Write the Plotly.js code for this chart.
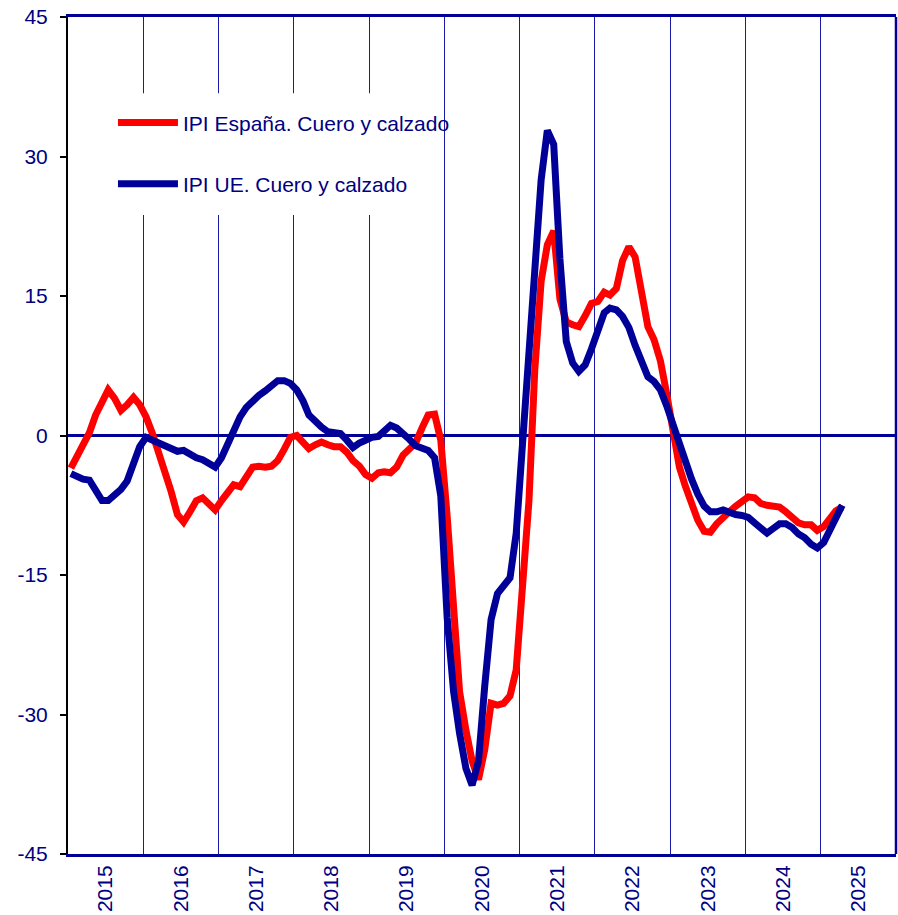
<!DOCTYPE html>
<html><head><meta charset="utf-8">
<script src="https://cdn.plot.ly/plotly-3.0.1.min.js"></script>
<style>html,body{margin:0;padding:0;background:#fff;} #chart{width:898px;height:915px;}</style>
</head><body><div id="chart"></div>
<script>
const startYear = 2015;
const seriesNames = ['IPI España. Cuero y calzado', 'IPI UE. Cuero y calzado'];
const spain = [
  -3.5, -2.3, -1.0, 0.3, 2.2, 3.6, 4.9, 4.0, 2.7, 3.3, 4.1, 3.3,
  2.0, 0.2, -1.8, -3.5, -6.0, -8.5, -9.3, -8.2, -7.0, -6.7, -7.5, -8.0,
  -7.0, -6.0, -5.3, -5.5, -4.5, -3.4, -3.3, -3.4, -3.3, -2.7, -1.5, -0.2,
  0.0, -0.8, -1.4, -1.0, -0.7, -1.0, -1.2, -1.2, -1.8, -2.7, -3.3, -4.2,
  -4.6, -4.0, -3.9, -4.0, -3.4, -2.1, -1.5, -0.8, 0.8, 2.2, 2.3, -0.5,
  -8.7, -19.0, -27.5, -31.7, -35.0, -37.0, -33.8, -28.8, -29.0, -28.8, -28.0, -25.2,
  -15.4, -7.0, 7.0, 16.6, 20.5, 22.0, 14.7, 12.2, 11.9, 11.7, 12.9, 14.2,
  14.4, 15.4, 15.1, 15.8, 18.8, 20.3, 19.2, 15.3, 11.7, 10.3, 8.0, 4.5,
  0.2, -3.4, -5.4, -7.3, -9.1, -10.3, -10.4, -9.5, -8.7, -8.2, -7.6, -7.0,
  -6.6, -6.7, -7.3, -7.5, -7.6, -7.7, -8.2, -8.9, -9.4, -9.6, -9.6, -10.2,
  -9.8, -8.9, -8.1, -7.7
];
const eu = [
  -4.1, -4.5, -4.7, -4.8, -6.0, -7.0, -7.0, -6.4, -5.8, -4.9, -3.2, -1.2,
  -0.2, -0.5, -0.9, -1.1, -1.5, -1.7, -1.6, -2.1, -2.4, -2.6, -3.0, -3.4,
  -2.4, -0.8, 0.8, 2.0, 3.0, 3.7, 4.3, 4.8, 5.4, 5.9, 5.9, 5.6,
  4.9, 3.7, 2.2, 1.5, 0.9, 0.4, 0.3, 0.2, -0.5, -1.3, -0.8, -0.4,
  -0.2, -0.1, 0.5, 1.1, 0.8, 0.3, -0.4, -1.1, -1.3, -1.6, -2.4, -6.5,
  -19.6, -27.5, -32.0, -35.8, -37.6, -35.0, -27.0, -19.8, -17.0, -16.0, -15.3, -10.5,
  0.0, 8.0, 17.7, 27.5, 32.8, 31.3, 19.0, 10.1, 7.8, 6.9, 7.6, 9.3,
  11.3, 13.2, 13.7, 13.5, 12.8, 11.6, 9.7, 7.8, 6.3, 5.8, 4.9, 3.2,
  1.2, -1.2, -3.0, -4.7, -6.3, -7.6, -8.2, -8.2, -8.0, -8.3, -8.5, -8.6,
  -8.8, -9.4, -10.0, -10.5, -10.0, -9.5, -9.5, -9.9, -10.6, -11.0, -11.7, -12.1,
  -11.5, -10.1, -8.8, -7.5
];
const yTicks = [-45, -30, -15, 0, 15, 30, 45];
const yTickText = ['-45', '-30', '-15', '0', '15', '30', '45'];

const months = spain.map((_, i) => {
  const y = startYear + Math.floor(i / 12);
  const m = (i % 12) + 1;
  return y + '-' + String(m).padStart(2, '0') + '-15';
});

const navy = '#000099';
const txt = '#000080';
const fontFam = 'Arial, "Liberation Sans", sans-serif';

const traces = [
  {x: months, y: spain, name: seriesNames[0], type: 'scatter', mode: 'lines',
   line: {color: '#ff0000', width: 7}, legend: 'legend'},
  {x: months, y: eu, name: seriesNames[1], type: 'scatter', mode: 'lines',
   line: {color: navy, width: 7}, legend: 'legend2'}
];

const legendBase = {xanchor: 'left', yanchor: 'middle', bgcolor: 'rgba(0,0,0,0)',
  borderwidth: 0, font: {family: fontFam, size: 21, color: txt}, itemwidth: 60};

const layout = {
  width: 898, height: 915,
  margin: {l: 68, r: 2, t: 17, b: 61},
  paper_bgcolor: '#fff', plot_bgcolor: '#fff',
  font: {family: fontFam, size: 21, color: txt},
  showlegend: true,
  legend: Object.assign({x: 0.0543, y: 0.8734}, legendBase),
  legend2: Object.assign({x: 0.0543, y: 0.8005}, legendBase),
  xaxis: {
    type: 'date', range: ['2015-01-01', '2026-01-01'],
    tick0: '2015-01-01', dtick: 'M12', ticklabelmode: 'period', tickformat: '%Y',
    tickangle: -90, ticks: '', showgrid: true, gridcolor: '#1a1aa8', gridwidth: 1,
    showline: true, linecolor: navy, linewidth: 3, mirror: true,
    tickfont: {family: fontFam, size: 21, color: txt}, zeroline: false, fixedrange: true
  },
  yaxis: {
    range: [-45, 45], tickvals: yTicks, ticktext: yTickText, ticks: 'outside', ticklen: 6, tickwidth: 2,
    tickcolor: '#000', showgrid: false, showline: true, linecolor: '#000', linewidth: 2,
    zeroline: true, zerolinecolor: navy, zerolinewidth: 2.5, ticklabelstandoff: 8,
    tickfont: {family: fontFam, size: 21, color: txt}, fixedrange: true
  },
  shapes: [
    {type: 'rect', xref: 'paper', yref: 'paper', x0: 0.0386, x1: 0.449, y0: 0.7635, y1: 0.909,
     fillcolor: '#fff', line: {width: 0}, layer: 'above'},
    {type: 'line', xref: 'paper', yref: 'paper', x0: 1, x1: 1, y0: 0, y1: 1,
     line: {color: navy, width: 2.5}}
  ]
};

Plotly.newPlot('chart', traces, layout, {staticPlot: true, displayModeBar: false});
</script>
</body></html>
